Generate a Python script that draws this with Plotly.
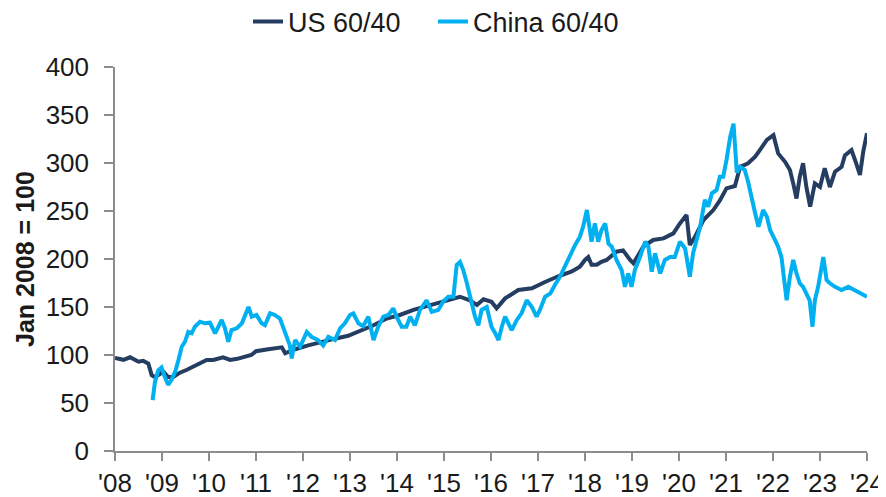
import plotly.graph_objects as go

# ---- data (decimal years, index Jan 2008 = 100) ----
us_x = [2008.00, 2008.18, 2008.32, 2008.50, 2008.60, 2008.71, 2008.78, 2008.85, 2009.03, 2009.13,
        2009.24, 2009.38, 2009.52, 2009.67, 2009.81, 2009.95, 2010.09, 2010.30, 2010.45, 2010.60,
        2010.90, 2011.00, 2011.26, 2011.45, 2011.55, 2011.62, 2011.83, 2012.11, 2012.40, 2012.68,
        2012.96, 2013.25, 2013.50, 2013.78, 2014.06, 2014.35, 2014.63, 2014.91, 2015.20, 2015.34,
        2015.55, 2015.70, 2015.84, 2016.01, 2016.12, 2016.30, 2016.58, 2016.87, 2017.15, 2017.43,
        2017.72, 2017.89, 2018.00, 2018.07, 2018.14, 2018.25, 2018.35, 2018.46, 2018.67, 2018.81,
        2018.96, 2019.03, 2019.24, 2019.45, 2019.67, 2019.88, 2020.02, 2020.16, 2020.23, 2020.34,
        2020.52, 2020.73, 2020.87, 2021.01, 2021.19, 2021.30, 2021.47, 2021.62, 2021.72, 2021.87,
        2022.01, 2022.11, 2022.26, 2022.36, 2022.43, 2022.50, 2022.57, 2022.64, 2022.71, 2022.79,
        2022.89, 2023.00, 2023.10, 2023.21, 2023.32, 2023.46, 2023.53, 2023.67, 2023.77, 2023.85,
        2023.92, 2024.00]
us_y = [97, 95, 97.6, 93, 94, 91, 79, 77, 82.6, 77,
        77, 81.6, 84.4, 87.8, 92, 94.8, 94.8, 97.6, 94.8, 96,
        100, 104, 106, 108, 108, 101.8, 106, 110, 114, 117,
        120, 126, 131, 138, 141.7, 147, 151, 154.5, 159, 160.7,
        157, 152, 158, 155.5, 148.6, 159, 167.7, 169.5, 176, 182,
        187, 192, 199, 202, 194, 194, 197, 199, 207.6, 209,
        199, 195.5, 212.8, 219.8, 221.5, 226.7, 237, 245.8, 214.6, 223,
        240.6, 251, 261, 273.6, 276, 296, 299.7, 306.6, 313.5, 324,
        329, 310, 301, 292.7, 278.8, 263, 285.7, 299.7, 275, 254.5,
        278.8, 275, 294.5, 275, 291, 296, 308, 313.5, 299.7, 287.5,
        311.8, 331]

cn_x = [2008.80, 2008.85, 2008.92, 2008.99, 2009.06, 2009.13, 2009.20, 2009.28, 2009.35, 2009.42,
        2009.49, 2009.56, 2009.63, 2009.70, 2009.81, 2009.91, 2010.02, 2010.13, 2010.20, 2010.27,
        2010.34, 2010.41, 2010.48, 2010.59, 2010.70, 2010.84, 2010.91, 2011.01, 2011.12, 2011.19,
        2011.30, 2011.40, 2011.51, 2011.58, 2011.65, 2011.72, 2011.76, 2011.83, 2011.94, 2012.08,
        2012.18, 2012.32, 2012.43, 2012.54, 2012.68, 2012.79, 2012.89, 2013.00, 2013.07, 2013.18,
        2013.28, 2013.39, 2013.50, 2013.60, 2013.71, 2013.82, 2013.92, 2013.99, 2014.10, 2014.20,
        2014.28, 2014.38, 2014.49, 2014.63, 2014.74, 2014.88, 2014.98, 2015.09, 2015.20, 2015.27,
        2015.34, 2015.41, 2015.48, 2015.59, 2015.66, 2015.73, 2015.80, 2015.91, 2016.01, 2016.09,
        2016.16, 2016.23, 2016.30, 2016.37, 2016.44, 2016.55, 2016.65, 2016.76, 2016.87, 2016.97,
        2017.04, 2017.15, 2017.26, 2017.36, 2017.47, 2017.57, 2017.68, 2017.79, 2017.89, 2017.96,
        2018.04, 2018.07, 2018.14, 2018.21, 2018.28, 2018.35, 2018.43, 2018.50, 2018.57, 2018.67,
        2018.78, 2018.85, 2018.92, 2018.99, 2019.06, 2019.17, 2019.28, 2019.35, 2019.42, 2019.49,
        2019.60, 2019.70, 2019.81, 2019.91, 2020.02, 2020.13, 2020.23, 2020.30, 2020.45, 2020.55,
        2020.62, 2020.70, 2020.80, 2020.87, 2020.94, 2021.01, 2021.09, 2021.16, 2021.19, 2021.23,
        2021.30, 2021.40, 2021.47, 2021.55, 2021.62, 2021.69, 2021.79, 2021.87, 2021.94, 2022.01,
        2022.11, 2022.18, 2022.26, 2022.29, 2022.36, 2022.43, 2022.50, 2022.57, 2022.64, 2022.71,
        2022.78, 2022.84, 2022.89, 2022.96, 2023.03, 2023.07, 2023.14, 2023.21, 2023.32, 2023.46,
        2023.60, 2023.74, 2023.88, 2024.00]
cn_y = [53, 72, 84, 87, 77, 69, 74, 82.6, 94.8, 108.6,
        113.9, 124, 122.6, 129.5, 134.7, 133, 133.7, 122.6, 129.5, 136.5,
        127.8, 113.9, 126, 127.8, 133, 150, 140, 141.7, 133, 131,
        143.4, 141.7, 138, 127.8, 119, 110, 96.5, 115.6, 108.6, 124,
        119, 115.6, 110, 119, 115.6, 127.8, 133, 141.7, 143.4, 133,
        130, 140, 115.6, 129.5, 140, 141.7, 148.6, 140, 129.5, 129.5,
        140, 131, 147, 157, 145, 147, 155.5, 160.7, 160.7, 193.8,
        197, 188.5, 176, 153.8, 140, 131, 147, 150, 129.5, 122.6,
        115.6, 129.5, 140, 133, 126, 136.5, 143.4, 157, 150, 140,
        147, 160.7, 164, 173, 181.6, 192, 204, 214.6, 223, 233.6,
        251, 240.6, 218, 237, 218, 230, 237, 216, 212.8, 199,
        188.5, 171, 185, 171, 188.5, 202, 218, 212.8, 186.8, 206,
        185, 199, 202, 202, 218, 211, 181.6, 206, 233.6, 261.5,
        254.5, 268.4, 271.9, 285.7, 285.7, 303, 327.4, 341, 317, 290,
        296, 292.7, 280.5, 265, 247.6, 233.6, 251, 244, 230, 223,
        212.8, 202, 164, 157, 181.6, 199, 185, 174.7, 171, 164,
        157, 129.5, 157, 171, 192, 202, 178, 174.7, 171, 167.7,
        171, 167.7, 164, 160.7]

x_tickvals = list(range(2008, 2025))
x_ticktext = ["'08", "'09", "'10", "'11", "'12", "'13", "'14", "'15", "'16",
              "'17", "'18", "'19", "'20", "'21", "'22", "'23", "'24"]
series_names = ["US 60/40", "China 60/40"]
y_title = "Jan 2008 = 100"

US_COLOR = "#243D61"
CN_COLOR = "#00B0F0"
AXIS_COLOR = "#8C8C8C"
FONT = "Liberation Sans, Arial, sans-serif"

# page body has an 8px default margin, so the figure is 878x489
W, H = 878, 489

fig = go.Figure()
fig.add_trace(go.Scatter(x=us_x, y=us_y, mode="lines", name=series_names[0],
                         line=dict(color=US_COLOR, width=4)))
fig.add_trace(go.Scatter(x=cn_x, y=cn_y, mode="lines", name=series_names[1],
                         line=dict(color=CN_COLOR, width=4)))

fig.update_layout(
    width=W, height=H,
    margin=dict(l=107, r=19, t=59, b=46, autoexpand=False),
    paper_bgcolor="white", plot_bgcolor="white",
    font=dict(family=FONT, size=26, color="#1a1a1a"),
    showlegend=True,
    legend=dict(orientation="h", x=240 / W, xref="container", xanchor="left",
                y=1 - 14 / H, yref="container", yanchor="middle",
                font=dict(size=27, color="#1a1a1a"), entrywidth=140, entrywidthmode="pixels",
                itemwidth=30, tracegroupgap=0, bgcolor="rgba(0,0,0,0)"),
    xaxis=dict(range=[2008, 2024], tickvals=x_tickvals, ticktext=x_ticktext,
               showgrid=False, zeroline=False, showline=True, linecolor=AXIS_COLOR,
               linewidth=1.5, ticks="outside", ticklen=8, tickcolor=AXIS_COLOR,
               tickwidth=1.5, tickfont=dict(size=26), automargin=False),
    yaxis=dict(range=[0, 400], dtick=50, tick0=0,
               showgrid=False, zeroline=False, showline=True, linecolor=AXIS_COLOR,
               linewidth=1.5, ticks="outside", ticklen=9, tickcolor=AXIS_COLOR,
               tickwidth=1.5, tickfont=dict(size=26), ticklabelstandoff=10,
               automargin=False),
    annotations=[dict(text="<b>" + y_title + "</b>", textangle=-90,
                      x=(17 - 107) / 752, y=0.5, xref="paper", yref="paper",
                      xanchor="center", yanchor="middle", showarrow=False,
                      font=dict(size=25, family=FONT, color="#1a1a1a"))],
)

fig.write_html("out.html")
